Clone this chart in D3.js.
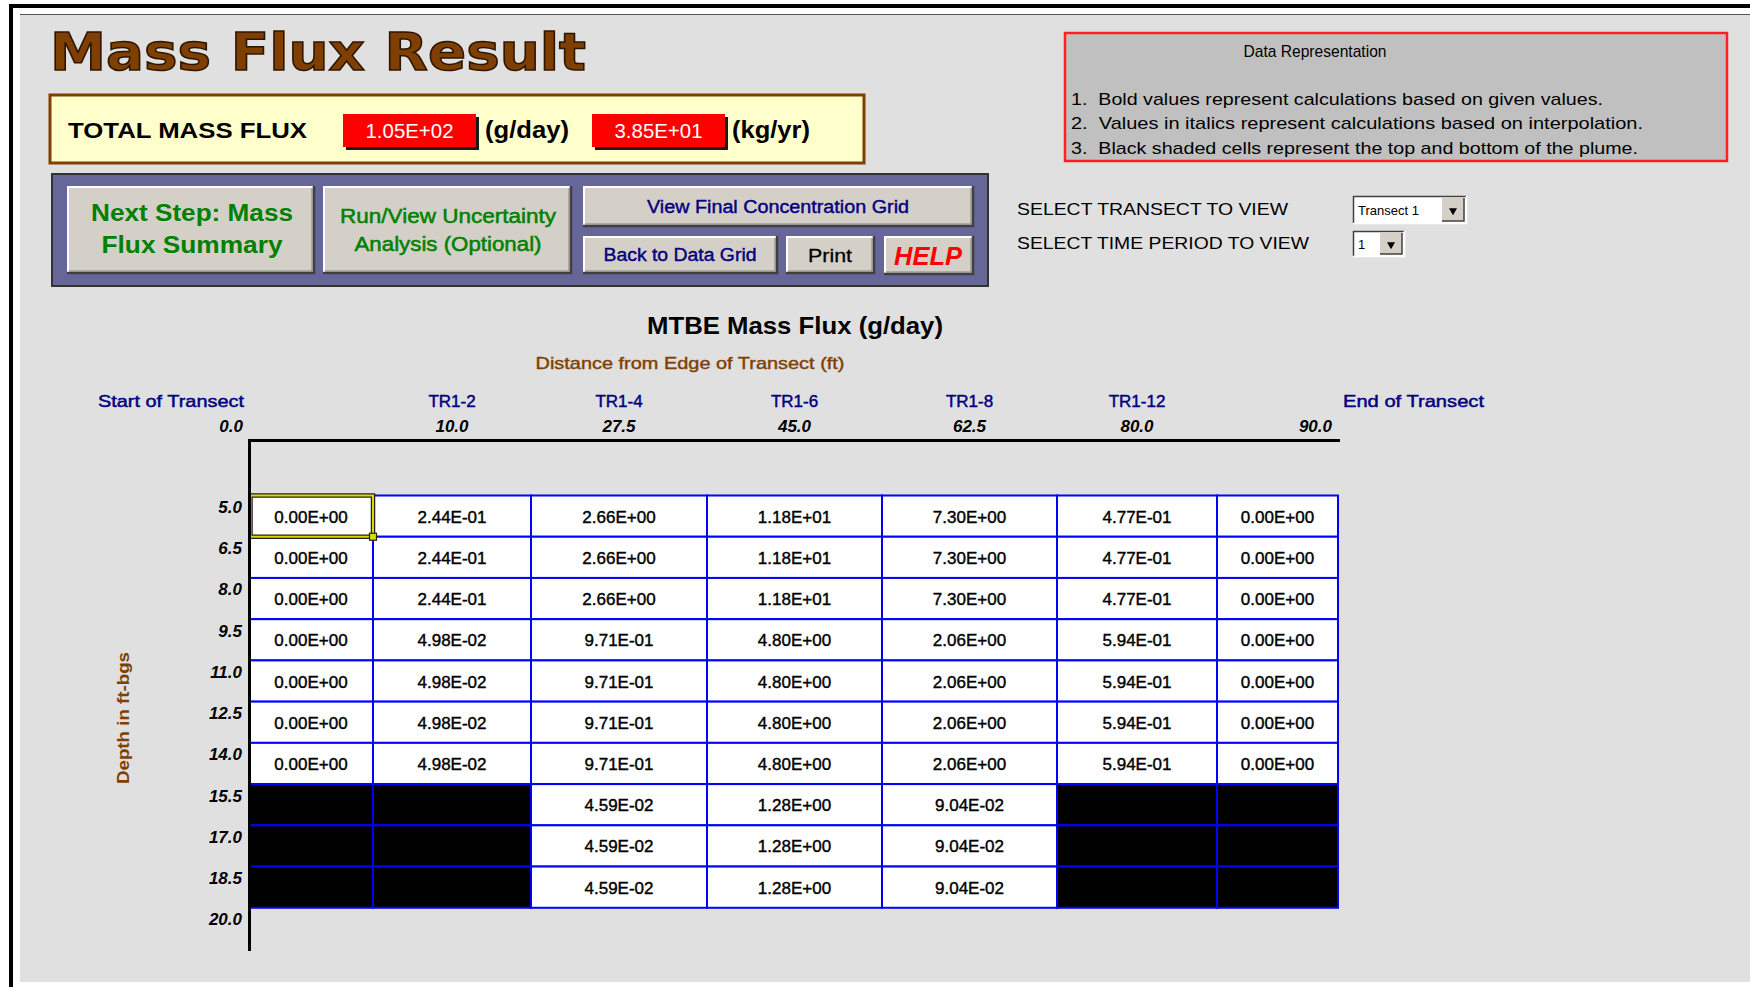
<!DOCTYPE html>
<html>
<head>
<meta charset="utf-8">
<script src="https://cdn.jsdelivr.net/npm/d3@7"></script>
<style>
  body { margin: 0; background: #fff; }
  svg text { font-family: "Liberation Sans", Arial, sans-serif; white-space: pre; }
</style>
</head>
<body>
<script>
// transect header
const wells = ["Start of Transect", "TR1-2", "TR1-4", "TR1-6", "TR1-8", "TR1-12", "End of Transect"];
const distances = [0.0, 10.0, 27.5, 45.0, 62.5, 80.0, 90.0];
const depths = [5.0, 6.5, 8.0, 9.5, 11.0, 12.5, 14.0, 15.5, 17.0, 18.5, 20.0];

// MTBE mass flux (g/day), one row per depth interval, null = black shaded cell
const massFlux = [
    [0.00, 0.244, 2.66, 11.8, 7.30, 0.477, 0.00],
    [0.00, 0.244, 2.66, 11.8, 7.30, 0.477, 0.00],
    [0.00, 0.244, 2.66, 11.8, 7.30, 0.477, 0.00],
    [0.00, 0.0498, 0.971, 4.80, 2.06, 0.594, 0.00],
    [0.00, 0.0498, 0.971, 4.80, 2.06, 0.594, 0.00],
    [0.00, 0.0498, 0.971, 4.80, 2.06, 0.594, 0.00],
    [0.00, 0.0498, 0.971, 4.80, 2.06, 0.594, 0.00],
    [null, null, 0.0459, 1.28, 0.0904, null, null],
    [null, null, 0.0459, 1.28, 0.0904, null, null],
    [null, null, 0.0459, 1.28, 0.0904, null, null]
];

const totalFlux = [1.05e2, 3.85e1];
const totalUnits = ["(g/day)", "(kg/yr)"];
const notes = [
    "1.  Bold values represent calculations based on given values.",
    "2.  Values in italics represent calculations based on interpolation.",
    "3.  Black shaded cells represent the top and bottom of the plume."
];

const W = 1750, H = 987;
const colW = [124, 158, 176, 175, 175, 160, 121];   // spreadsheet column widths
const gridLeft = 249;

// 2.44E-01 style
function sci(v) {
    const parts = v.toExponential(2).split("e");
    const n = +parts[1];
    return parts[0] + "E" + (n < 0 ? "-" : "+") + String(Math.abs(n)).padStart(2, "0");
}

const svg = d3.select("body").append("svg").attr("width", W).attr("height", H);

function txt(g, s, x, y, o) {
    o = o || {};
    const t = g.append("text")
        .attr("x", x).attr("y", y)
        .attr("dominant-baseline", o.base || "central")
        .attr("text-anchor", o.anchor || "start")
        .style("font-size", (o.size || 17) + "px")
        .style("font-weight", o.weight || "normal")
        .style("font-style", o.italic ? "italic" : "normal")
        .attr("fill", o.color || "#000")
        .text(s);
    if (o.family) t.style("font-family", o.family);
    if (o.len) t.attr("textLength", o.len).attr("lengthAdjust", "spacingAndGlyphs");
    if (o.stroke) t.attr("stroke", o.stroke).attr("stroke-width", o.sw || 0.3);
    return t;
}

// bevelled windows style button
function button(x0, y0, w, h) {
    const b = svg.append("g");
    b.append("rect").attr("x", x0).attr("y", y0).attr("width", w).attr("height", h).attr("fill", "#D4D0C8");
    b.append("path").attr("d", `M${x0 + 1},${y0 + h - 1}V${y0 + 1}H${x0 + w - 1}`)
        .attr("stroke", "#fff").attr("stroke-width", 2).attr("fill", "none");
    b.append("path").attr("d", `M${x0},${y0 + h - 1}H${x0 + w - 1}V${y0}`)
        .attr("stroke", "#404040").attr("stroke-width", 2.5).attr("fill", "none");
    b.append("path").attr("d", `M${x0 + 2},${y0 + h - 3}H${x0 + w - 3}V${y0 + 2}`)
        .attr("stroke", "#808080").attr("stroke-width", 1).attr("fill", "none");
    return b;
}

// sheet frame
svg.append("rect").attr("x", 20).attr("y", 15).attr("width", W - 20).attr("height", 967).attr("fill", "#E0E0E0");
svg.append("line").attr("x1", 20).attr("x2", W).attr("y1", 14.5).attr("y2", 14.5).attr("stroke", "#555");
svg.append("rect").attr("x", 9).attr("y", 4).attr("width", W - 9).attr("height", 4).attr("fill", "#000");
svg.append("rect").attr("x", 9).attr("y", 4).attr("width", 4).attr("height", H - 4).attr("fill", "#000");

// title
txt(svg, "Mass Flux Result", 50, 70, {
    base: "alphabetic", size: 52, weight: "bold", color: "#7F3F00", family: "DejaVu Sans",
    len: 536, stroke: "#2b1400", sw: 1.5
});

// total mass flux box
svg.append("rect").attr("x", 50).attr("y", 95).attr("width", 814).attr("height", 68)
    .attr("fill", "#FFFFCC").attr("stroke", "#7F3F00").attr("stroke-width", 3);
txt(svg, "TOTAL MASS FLUX", 68, 130, {size: 22, weight: "bold", len: 239});
const totBox = [[343, 485, 84], [592, 732, 78]];
totalFlux.forEach(function (v, i) {
    const bx = totBox[i][0];
    svg.append("rect").attr("x", bx + 3).attr("y", 117).attr("width", 133).attr("height", 33).attr("fill", "#1a1a1a");
    svg.append("rect").attr("x", bx).attr("y", 114).attr("width", 133).attr("height", 33).attr("fill", "#FF0000");
    txt(svg, sci(v), bx + 66.5, 131, {anchor: "middle", size: 20, color: "#fff", len: 88});
    txt(svg, totalUnits[i], totBox[i][1], 130, {size: 23, weight: "bold", len: totBox[i][2]});
});

// button panel
svg.append("rect").attr("x", 52).attr("y", 174).attr("width", 936).attr("height", 112)
    .attr("fill", "#666699").attr("stroke", "#333").attr("stroke-width", 2);
button(67, 186, 248, 88);
txt(svg, "Next Step: Mass", 192, 213, {anchor: "middle", size: 23, weight: "bold", color: "#008000", len: 202});
txt(svg, "Flux Summary", 192, 245, {anchor: "middle", size: 23, weight: "bold", color: "#008000", len: 181});
button(323, 186, 249, 88);
txt(svg, "Run/View Uncertainty", 448, 216, {anchor: "middle", size: 20, color: "#008000", len: 216, stroke: "#008000", sw: 0.5});
txt(svg, "Analysis (Optional)", 448, 244, {anchor: "middle", size: 20, color: "#008000", len: 187, stroke: "#008000", sw: 0.5});
button(583, 186, 391, 41);
txt(svg, "View Final Concentration Grid", 778, 207, {anchor: "middle", size: 18, color: "#000080", len: 262, stroke: "#000080", sw: 0.4});
button(583, 236, 195, 38);
txt(svg, "Back to Data Grid", 680, 255, {anchor: "middle", size: 18, color: "#000080", len: 153, stroke: "#000080", sw: 0.4});
button(786, 236, 89, 38);
txt(svg, "Print", 830, 255, {anchor: "middle", size: 19, len: 44, stroke: "#000", sw: 0.3});
button(884, 236, 90, 39);
txt(svg, "HELP", 928, 256, {anchor: "middle", size: 26, weight: "bold", italic: true, color: "#FF0000", len: 68});

// data representation note
svg.append("rect").attr("x", 1065).attr("y", 33).attr("width", 662).attr("height", 128)
    .attr("fill", "#C0C0C0").attr("stroke", "#FF2020").attr("stroke-width", 2.5);
txt(svg, "Data Representation", 1315, 51, {anchor: "middle", size: 17, len: 143});
const noteLen = [532, 572, 567];
notes.forEach(function (n, i) {
    txt(svg, n, 1071, 99 + i * 24.5, {size: 17, len: noteLen[i]});
});

// selectors
txt(svg, "SELECT TRANSECT TO VIEW", 1017, 209, {size: 17, len: 271});
txt(svg, "SELECT TIME PERIOD TO VIEW", 1017, 243, {size: 17, len: 292});
const drops = [[1353, 196, 113, 27, "Transect 1"], [1353, 231, 51, 25, "1"]];
drops.forEach(function (d) {
    const g = svg.append("g");
    g.append("rect").attr("x", d[0]).attr("y", d[1]).attr("width", d[2]).attr("height", d[3]).attr("fill", "#fff");
    g.append("path").attr("d", `M${d[0] + 0.5},${d[1] + d[3]}V${d[1] + 0.5}H${d[0] + d[2]}`)
        .attr("stroke", "#404040").attr("stroke-width", 1.5).attr("fill", "none");
    g.append("path").attr("d", `M${d[0]},${d[1] + d[3] + 0.5}H${d[0] + d[2] + 0.5}V${d[1]}`)
        .attr("stroke", "#fff").attr("stroke-width", 1.5).attr("fill", "none");
    txt(g, d[4], d[0] + 5, d[1] + d[3] / 2 + 1, {size: 13});
    const bx = d[0] + d[2] - 24, by = d[1] + 2;
    g.append("rect").attr("x", bx).attr("y", by).attr("width", 22).attr("height", d[3] - 4).attr("fill", "#D4D0C8");
    g.append("path").attr("d", `M${bx},${by + d[3] - 4}H${bx + 22}V${by}`).attr("stroke", "#404040").attr("stroke-width", 1.5).attr("fill", "none");
    g.append("path").attr("d", d3.symbol(d3.symbolTriangle, 28)())
        .attr("transform", `translate(${bx + 11},${by + (d[3] - 4) / 2 + 1}) rotate(180)`).attr("fill", "#000");
});

// ---------- flux grid ----------
const edges = [gridLeft].concat(Array.from(d3.cumsum(colW), function (c) { return gridLeft + c; }));
const x = d3.scaleLinear().domain(d3.range(edges.length)).range(edges);
const y = d3.scaleLinear().domain([0, 5, 21.5]).range([440, 495.5, 949]);
const rowH = 1.5;

txt(svg, "MTBE Mass Flux (g/day)", 795, 325, {anchor: "middle", size: 24, weight: "bold", len: 296});
txt(svg, "Distance from Edge of Transect (ft)", 690, 363, {anchor: "middle", size: 17, color: "#7F3F00", len: 309, stroke: "#7F3F00", sw: 0.4});

// well names and distances above the grid
const last = wells.length - 1;
function colPos(i) { return i === 0 ? 0 : (i === last ? wells.length : i + 0.5); }
svg.append("g").selectAll("text").data(wells).enter().append("text")
    .attr("x", function (d, i) { return i === 0 ? x(0) - 5 : (i === last ? x(wells.length) + 5 : x(colPos(i))); })
    .attr("y", 401)
    .attr("dominant-baseline", "central")
    .attr("text-anchor", function (d, i) { return i === 0 ? "end" : (i === last ? "start" : "middle"); })
    .attr("textLength", function (d, i) { return i === 0 ? 146 : (i === last ? 141 : null); })
    .attr("lengthAdjust", "spacingAndGlyphs")
    .style("font-size", "17px")
    .attr("fill", "#000080").attr("stroke", "#000080").attr("stroke-width", 0.45)
    .text(function (d) { return d; });

svg.append("g").selectAll("text").data(distances).enter().append("text")
    .attr("x", function (d, i) { return (i === 0 || i === last) ? x(colPos(i)) - 6 : x(colPos(i)); })
    .attr("y", 426)
    .attr("dominant-baseline", "central")
    .attr("text-anchor", function (d, i) { return (i === 0 || i === last) ? "end" : "middle"; })
    .style("font-size", "17px").style("font-weight", "bold").style("font-style", "italic")
    .text(d3.format(".1f"));

// cells
const cells = [];
massFlux.forEach(function (row, r) {
    row.forEach(function (v, c) { cells.push({r: r, c: c, v: v}); });
});
const cellG = svg.append("g");
cellG.selectAll("rect").data(cells).enter().append("rect")
    .attr("x", function (d) { return x(d.c); })
    .attr("y", function (d) { return y(depths[d.r]); })
    .attr("width", function (d) { return x(d.c + 1) - x(d.c); })
    .attr("height", function (d) { return y(depths[d.r] + rowH) - y(depths[d.r]); })
    .attr("fill", function (d) { return d.v === null ? "#000" : "#fff"; })
    .attr("stroke", "#0000FF").attr("stroke-width", 2);
cellG.selectAll("text").data(cells.filter(function (d) { return d.v !== null; })).enter().append("text")
    .attr("x", function (d) { return (x(d.c) + x(d.c + 1)) / 2; })
    .attr("y", function (d) { return (y(depths[d.r]) + y(depths[d.r] + rowH)) / 2 + 1; })
    .attr("dominant-baseline", "central").attr("text-anchor", "middle")
    .style("font-size", "17px")
    .attr("stroke", "#000").attr("stroke-width", 0.4)
    .text(function (d) { return sci(d.v); });

// selected cell
const sel = svg.append("g");
sel.append("rect").attr("x", x(0) + 1.5).attr("y", y(depths[0])).attr("width", x(1) - x(0) - 1.5).attr("height", y(depths[0] + rowH) - y(depths[0]))
    .attr("fill", "none").attr("stroke", "#222").attr("stroke-width", 4.5);
sel.append("rect").attr("x", x(0) + 1.5).attr("y", y(depths[0])).attr("width", x(1) - x(0) - 1.5).attr("height", y(depths[0] + rowH) - y(depths[0]))
    .attr("fill", "none").attr("stroke", "#DADA00").attr("stroke-width", 2);
sel.append("rect").attr("x", x(1) - 3.5).attr("y", y(depths[0] + rowH) - 3.5).attr("width", 7).attr("height", 7)
    .attr("fill", "#DADA00").attr("stroke", "#222").attr("stroke-width", 1.2);

// axes
const yAxis = svg.append("g").attr("transform", `translate(${x(0)},0)`)
    .call(d3.axisLeft(y).tickValues(depths).tickSize(0).tickSizeOuter(0).tickPadding(7).tickFormat(d3.format(".1f")));
const xAxis = svg.append("g").attr("transform", `translate(0,${y(0)})`)
    .call(d3.axisTop(x).tickValues([]).tickSizeOuter(0));
[yAxis, xAxis].forEach(function (a) {
    a.select(".domain").attr("stroke", "#000").attr("stroke-width", 3).attr("stroke-linecap", "square");
});
yAxis.selectAll("text")
    .attr("dy", "1.0em")
    .style("font-family", "Liberation Sans, Arial, sans-serif")
    .style("font-size", "17px").style("font-weight", "bold").style("font-style", "italic")
    .attr("fill", "#000");

txt(svg, "Depth in ft-bgs", 0, 0, {anchor: "middle", size: 17, weight: "bold", color: "#7F3F00", len: 132})
    .attr("transform", "translate(123,718) rotate(-90)");
</script>
</body>
</html>
